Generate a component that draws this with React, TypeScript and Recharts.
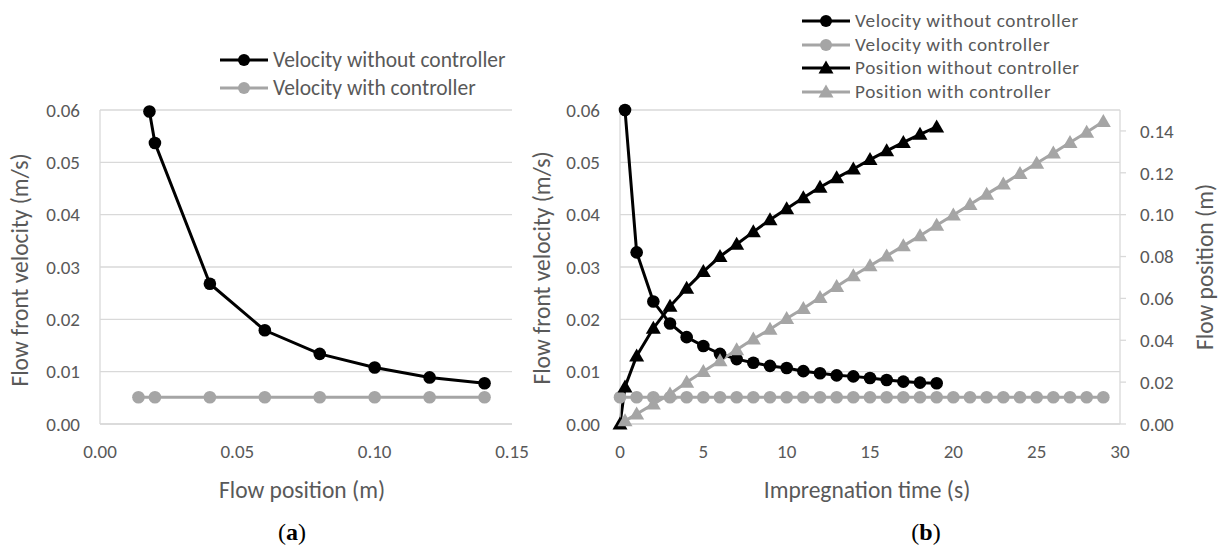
import { LineChart, Line, XAxis, YAxis, CartesianGrid } from 'recharts';

const FONT = 'Carlito, Calibri, Lato, "Open Sans", sans-serif';
const TXT = '#595959';
const GRID = '#d9d9d9';
const BLACK = '#000000';
const GRAY = '#a5a5a5';

// (a) velocity vs flow position
const posA_noCtrl = [0.018, 0.02, 0.04, 0.06, 0.08, 0.10, 0.12, 0.14];
const velA_noCtrl = [0.0597, 0.0537, 0.0268, 0.0179, 0.0134, 0.0108, 0.0089, 0.0078];
const posA_ctrl = [0.014, 0.02, 0.04, 0.06, 0.08, 0.10, 0.12, 0.14];
const velA_ctrl = [0.0051, 0.0051, 0.0051, 0.0051, 0.0051, 0.0051, 0.0051, 0.0051];
const ticksA_x = [0, 0.05, 0.1, 0.15];
const ticksVel = [0, 0.01, 0.02, 0.03, 0.04, 0.05, 0.06];

// (b) velocity and position vs impregnation time
const tVel_noCtrl = [0.3, 1, 2, 3, 4, 5, 6, 7, 8, 9, 10, 11, 12, 13, 14, 15, 16, 17, 18, 19];
const vel_noCtrl = [0.060, 0.0328, 0.0234, 0.0192, 0.0166, 0.0149, 0.0134, 0.0124, 0.0117, 0.0111,
  0.0107, 0.0101, 0.0097, 0.0093, 0.0091, 0.0088, 0.0084, 0.0081, 0.0079, 0.0078];
const tVel_ctrl = [0, 1, 2, 3, 4, 5, 6, 7, 8, 9, 10, 11, 12, 13, 14, 15, 16, 17, 18, 19,
  20, 21, 22, 23, 24, 25, 26, 27, 28, 29];
const vel_ctrl = [0.0051, 0.0051, 0.0051, 0.0051, 0.0051, 0.0051, 0.0051, 0.0051, 0.0051, 0.0051,
  0.0051, 0.0051, 0.0051, 0.0051, 0.0051, 0.0051, 0.0051, 0.0051, 0.0051, 0.0051,
  0.0051, 0.0051, 0.0051, 0.0051, 0.0051, 0.0051, 0.0051, 0.0051, 0.0051, 0.0051];
const tPos_noCtrl = [0, 0.3, 1, 2, 3, 4, 5, 6, 7, 8, 9, 10, 11, 12, 13, 14, 15, 16, 17, 18, 19];
const pos_noCtrl = [0, 0.0177, 0.0325, 0.0457, 0.0562, 0.0649, 0.0728, 0.0800, 0.0859, 0.0918, 0.0976,
  0.1028, 0.1081, 0.1131, 0.1176, 0.1218, 0.1263, 0.1305, 0.1345, 0.1384, 0.1419];
const tPos_ctrl = [0.3, 1, 2, 3, 4, 5, 6, 7, 8, 9, 10, 11, 12, 13, 14, 15, 16, 17, 18, 19,
  20, 21, 22, 23, 24, 25, 26, 27, 28, 29];
const pos_ctrl = [0.0015, 0.0048, 0.0095, 0.0143, 0.0199, 0.0251, 0.0302, 0.0355, 0.0406, 0.0453,
  0.0504, 0.0552, 0.0604, 0.0657, 0.0708, 0.0756, 0.0803, 0.0851, 0.0899, 0.0949,
  0.0998, 0.1049, 0.1098, 0.1146, 0.1197, 0.1246, 0.1295, 0.1345, 0.1394, 0.1445];
const ticksB_x = [0, 5, 10, 15, 20, 25, 30];
const ticksPos = [0, 0.02, 0.04, 0.06, 0.08, 0.10, 0.12, 0.14];

const zip = (xs: number[], ys: number[]) => xs.map((x, i) => ({ x, y: ys[i] }));

const tickStyle = { fill: TXT, fontSize: 19, fontFamily: FONT };

const triangle = (color: string) => (p: any) => {
  const { cx, cy, index } = p;
  if (cx == null || cy == null) return <g key={index} />;
  return <polygon key={index} points={`${cx},${cy - 7.5} ${cx + 7.5},${cy + 5.5} ${cx - 7.5},${cy + 5.5}`} fill={color} />;
};

function LegendRow({ top, left, color, shape, text, size = 21.5, spacing = 0 }: {
  top: number; left: number; color: string; shape: 'circle' | 'tri'; text: string; size?: number; spacing?: number;
}) {
  return (
    <div style={{ position: 'absolute', top: top - 10, left, height: 20, display: 'flex', alignItems: 'center', whiteSpace: 'nowrap' }}>
      <svg width={50} height={20}>
        <line x1={0} y1={10} x2={48} y2={10} stroke={color} strokeWidth={3} />
        {shape === 'circle'
          ? <circle cx={24} cy={10} r={6} fill={color} />
          : <polygon points="24,2.5 31.5,15.5 16.5,15.5" fill={color} />}
      </svg>
      <span style={{ marginLeft: 3, fontSize: size, letterSpacing: spacing, lineHeight: '20px', color: TXT, fontFamily: FONT }}>{text}</span>
    </div>
  );
}

function Title({ x, y, text, rotate }: { x: number; y: number; text: string; rotate?: boolean }) {
  return (
    <div style={{
      position: 'absolute', left: x, top: y, whiteSpace: 'nowrap', fontSize: 23.5, lineHeight: '26px', color: TXT, fontFamily: FONT,
      transform: `translate(-50%, -50%)${rotate ? ' rotate(-90deg)' : ''}`,
    }}>{text}</div>
  );
}

function PanelTag({ x, y, letter }: { x: number; y: number; letter: string }) {
  return (
    <div style={{ position: 'absolute', left: x, top: y, transform: 'translate(-50%, -50%)', fontSize: 24, lineHeight: '26px', color: '#000', fontFamily: '"Liberation Serif", "DejaVu Serif", serif' }}>
      (<b>{letter}</b>)
    </div>
  );
}

export default function App() {
  return (
    <div style={{ position: 'absolute', left: 0, top: 0, width: 1218, height: 550, background: '#fff', overflow: 'hidden' }}>
      <div style={{ position: 'absolute', left: 0, top: 0 }}>
        <LineChart width={540} height={550} margin={{ top: 110, right: 28, bottom: 86, left: 40 }}>
          <CartesianGrid vertical={false} stroke={GRID} strokeWidth={1.3} />
          <XAxis type="number" dataKey="x" domain={[0, 0.15]} ticks={ticksA_x} tickFormatter={(v: number) => v.toFixed(2)}
            axisLine={{ stroke: GRID, strokeWidth: 1.3 }} tickLine={false} tickSize={0} tickMargin={21} height={40} tick={tickStyle} />
          <YAxis type="number" domain={[0, 0.06]} ticks={ticksVel} tickFormatter={(v: number) => v.toFixed(2)}
            axisLine={{ stroke: GRID, strokeWidth: 1.3 }} tickLine={false} tickSize={0} tickMargin={20} width={60} tick={tickStyle} />
          <Line data={zip(posA_noCtrl, velA_noCtrl)} dataKey="y" stroke={BLACK} strokeWidth={3}
            dot={{ r: 6.3, fill: BLACK, stroke: BLACK, strokeWidth: 0 }} activeDot={false} isAnimationActive={false} />
          <Line data={zip(posA_ctrl, velA_ctrl)} dataKey="y" stroke={GRAY} strokeWidth={3}
            dot={{ r: 6.3, fill: GRAY, stroke: GRAY, strokeWidth: 0 }} activeDot={false} isAnimationActive={false} />
        </LineChart>
      </div>

      <div style={{ position: 'absolute', left: 520, top: 0 }}>
        <LineChart width={698} height={550} margin={{ top: 110, right: 38, bottom: 86, left: 40 }}>
          <CartesianGrid vertical={false} stroke={GRID} strokeWidth={1.3} yAxisId="left" />
          <XAxis type="number" dataKey="x" domain={[0, 30]} ticks={ticksB_x}
            axisLine={{ stroke: GRID, strokeWidth: 1.3 }} tickLine={false} tickSize={0} tickMargin={21} height={40} tick={tickStyle} />
          <YAxis yAxisId="left" type="number" domain={[0, 0.06]} ticks={ticksVel} tickFormatter={(v: number) => v.toFixed(2)}
            axisLine={{ stroke: GRID, strokeWidth: 1.3 }} tickLine={false} tickSize={0} tickMargin={20} width={60} tick={tickStyle} />
          <YAxis yAxisId="right" orientation="right" type="number" domain={[0, 0.15]} ticks={ticksPos} tickFormatter={(v: number) => v.toFixed(2)}
            axisLine={{ stroke: GRID, strokeWidth: 1.3 }} tickLine={{ stroke: GRID, strokeWidth: 1.3 }} tickSize={6} tickMargin={14} width={60} tick={tickStyle} />
          <Line yAxisId="left" data={zip(tVel_noCtrl, vel_noCtrl)} dataKey="y" stroke={BLACK} strokeWidth={3}
            dot={{ r: 6.3, fill: BLACK, stroke: BLACK, strokeWidth: 0 }} activeDot={false} isAnimationActive={false} />
          <Line yAxisId="left" data={zip(tVel_ctrl, vel_ctrl)} dataKey="y" stroke={GRAY} strokeWidth={3}
            dot={{ r: 6.3, fill: GRAY, stroke: GRAY, strokeWidth: 0 }} activeDot={false} isAnimationActive={false} />
          <Line yAxisId="right" data={zip(tPos_noCtrl, pos_noCtrl)} dataKey="y" stroke={BLACK} strokeWidth={3}
            dot={triangle(BLACK)} activeDot={false} isAnimationActive={false} />
          <Line yAxisId="right" data={zip(tPos_ctrl, pos_ctrl)} dataKey="y" stroke={GRAY} strokeWidth={3}
            dot={triangle(GRAY)} activeDot={false} isAnimationActive={false} />
        </LineChart>
      </div>

      {/* legends */}
      <LegendRow top={60} left={220} color={BLACK} shape="circle" text="Velocity without controller" />
      <LegendRow top={88} left={220} color={GRAY} shape="circle" text="Velocity with controller" />
      <LegendRow top={21} left={802} color={BLACK} shape="circle" text="Velocity without controller" size={19.2} spacing={0.6} />
      <LegendRow top={44.5} left={802} color={GRAY} shape="circle" text="Velocity with controller" size={19.2} spacing={0.6} />
      <LegendRow top={68} left={802} color={BLACK} shape="tri" text="Position without controller" size={19.2} spacing={0.6} />
      <LegendRow top={91.5} left={802} color={GRAY} shape="tri" text="Position with controller" size={19.2} spacing={0.6} />

      {/* axis titles */}
      <Title x={20} y={270} text="Flow front velocity (m/s)" rotate />
      <Title x={302} y={490} text="Flow position (m)" />
      <Title x={542} y={268} text="Flow front velocity (m/s)" rotate />
      <Title x={867} y={490} text="Impregnation time (s)" />
      <Title x={1205} y={267} text="Flow position (m)" rotate />

      <PanelTag x={292} y={532} letter="a" />
      <PanelTag x={926} y={532} letter="b" />
    </div>
  );
}
